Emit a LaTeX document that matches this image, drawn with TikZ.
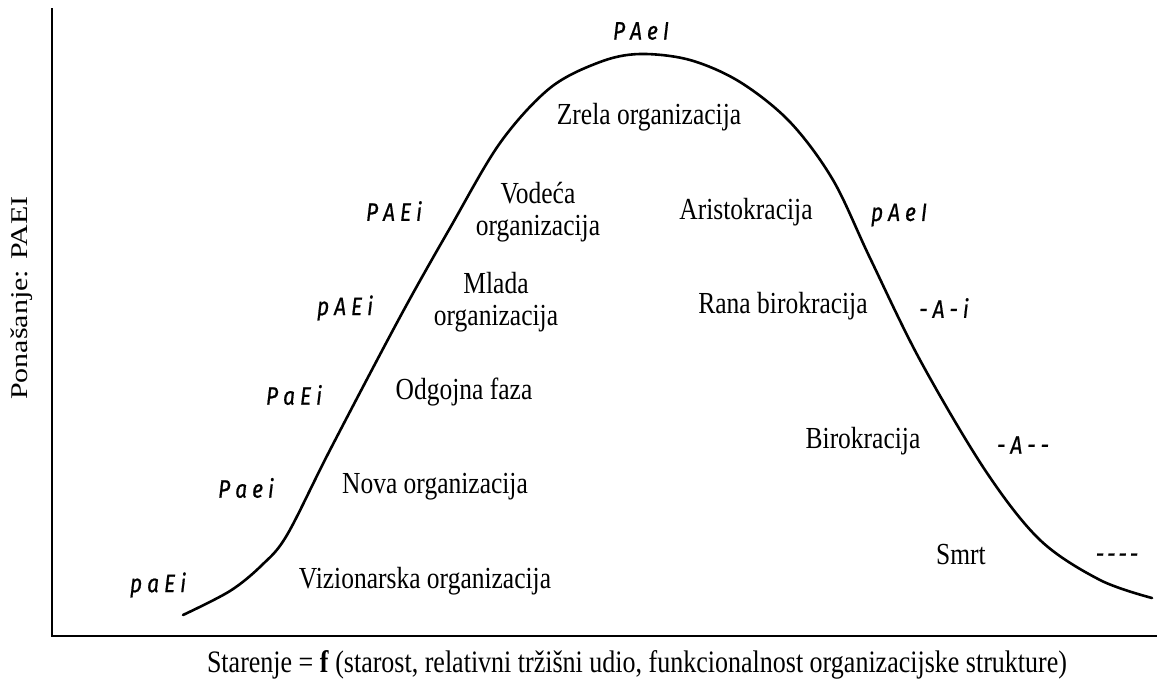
\documentclass[tikz,border=0pt]{standalone}
\usepackage{fontspec}
\usepackage{graphicx}
\setmainfont{Liberation Serif}
\newfontfamily\paeifont{Fira Sans}[ItalicFeatures={FakeBold=0.8}]
\newcommand\ys[1]{\scalebox{1}[1.2]{#1}}
\newcommand\ls{\kern5pt}
\begin{document}
\begin{tikzpicture}[x=1pt,y=-1pt,
  stage/.style={inner sep=0pt, font=\fontsize{25.5}{27}\selectfont},
  code/.style={inner sep=0pt, font=\fontsize{21}{23}\selectfont\paeifont\itshape},
  axis/.style={line width=1.8pt, black},
  curve/.style={line width=2.6pt, black, line cap=round}]
\useasboundingbox (0,0) rectangle (1157,686);
\fill[white] (0,0) rectangle (1157,686);
% axes
\coordinate (ytop) at (52,8);
\coordinate (orig) at (52,636);
\coordinate (xend) at (1157,636);
\draw[axis] (ytop) -- (orig) -- (xend);
% life-cycle curve
\draw[curve] plot[smooth, tension=0.55] coordinates {
 (183,615) (230,591) (262,565) (287,535) (330,450) (400,317) (450,228)
 (500,143) (550,88) (600,62) (640,54) (690,60) (740,82) (790,122)
 (833,180) (870,258) (920,360) (985,470) (1040,540) (1100,580) (1152,598)};
% code labels
\node[code] (cTop) at (641,31) {\ys{P\ls A\ls e\ls I}};
\node[code] (cPAEi) at (394,211) {\ys{P\ls A\ls E\ls i}};
\node[code] (cpAEi) at (345,308) {\ys{p\ls A\ls E\ls i}};
\node[code] (cPaEi) at (294,395) {\ys{P\ls a\ls E\ls i}};
\node[code] (cPaei) at (246,488) {\ys{P\ls a\ls e\ls i}};
\node[code] (cpaEi) at (158,585) {\ys{p\ls a\ls E\ls i}};
\node[code] (cpAeI) at (899,215) {\ys{p\ls A\ls e\ls I}};
\node[code] (cAi) at (944,308) {\ys{-\ls A\ls -\ls i}};
\node[code] (cA) at (1023,445) {\ys{-\ls A\ls -\ls -}};
\node[code] (cdead) at (1117,558) {\ys{-\kern3pt-\kern3pt-\kern3pt-}};
% stage labels
\node[stage] (zrela) at (649,117) {\ys{Zrela organizacija}};
\node[stage] (vodeca) at (538,213) {\ys{\begin{tabular}{@{}c@{}}Vodeća\\organizacija\end{tabular}}};
\node[stage] (mlada) at (496,303) {\ys{\begin{tabular}{@{}c@{}}Mlada\\organizacija\end{tabular}}};
\node[stage] (odgojna) at (464,392) {\ys{Odgojna faza}};
\node[stage] (nova) at (435,487) {\ys{Nova organizacija}};
\node[stage] (viz) at (425,581) {\ys{Vizionarska organizacija}};
\node[stage] (aristo) at (746,212) {\ys{Aristokracija}};
\node[stage] (rana) at (783,306) {\ys{Rana birokracija}};
\node[stage] (biro) at (863,441) {\ys{Birokracija}};
\node[stage] (smrt) at (961,555) {\ys{Smrt}};
% axis labels
\node[inner sep=0pt, font=\fontsize{26}{28}\selectfont] (xlab) at (637,665)
  {\ys{Starenje = \textbf{f} (starost, relativni tržišni udio, funkcionalnost organizacijske strukture)}};
\node[inner sep=0pt, font=\fontsize{24}{26}\selectfont, rotate=90] (ylab) at (22,298)
  {\scalebox{1.25}[1]{Ponašanje: PAEI}};
\end{tikzpicture}
\end{document}
